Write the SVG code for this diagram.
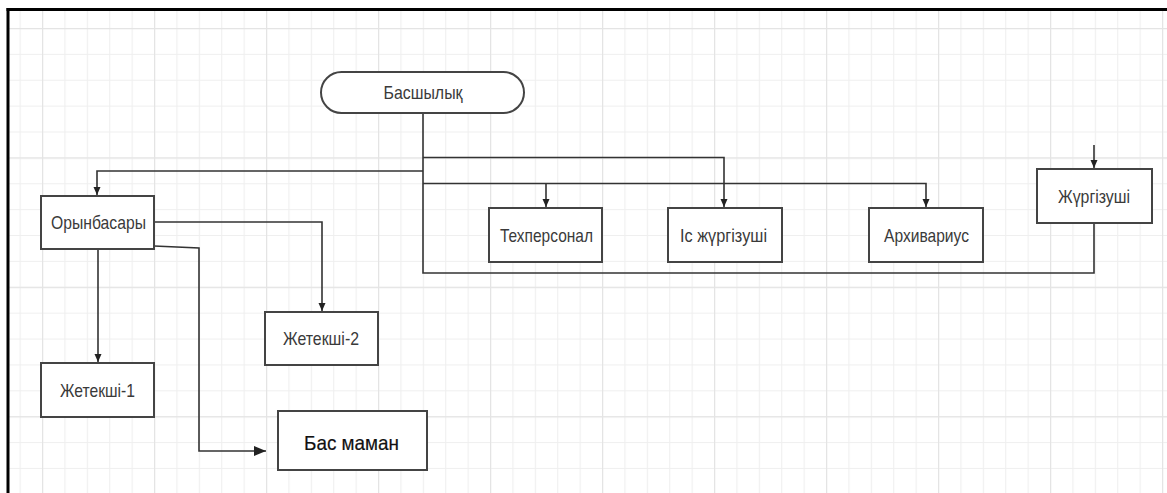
<svg xmlns="http://www.w3.org/2000/svg" width="1167" height="493" viewBox="0 0 1167 493">
<defs>
<pattern id="grid" x="19.6" y="2.1" width="22.4" height="25.88" patternUnits="userSpaceOnUse">
<path d="M0.5 0V25.88M0 0.5H22.4" fill="none" stroke="#efefef" stroke-width="1.2"/>
</pattern>
<pattern id="grid5" x="42" y="28" width="112" height="129.4" patternUnits="userSpaceOnUse">
<path d="M0.5 0V129.4M0 0.5H112" fill="none" stroke="#e4e4e4" stroke-width="1.4"/>
</pattern>
<marker id="arr" viewBox="0 0 8 10" refX="8" refY="5" markerWidth="8" markerHeight="10" markerUnits="userSpaceOnUse" orient="auto">
<path d="M0 1.5L8 5L0 8.5Z" fill="#222"/>
</marker>
<marker id="arrBig" viewBox="0 0 12 10" refX="12" refY="5" markerWidth="12" markerHeight="10" markerUnits="userSpaceOnUse" orient="auto">
<path d="M0 0L12 5L0 10Z" fill="#222"/>
</marker>
</defs>
<style>
.box{fill:#fff;stroke:#444;stroke-width:2}
.t{font-family:"Liberation Sans",Arial,sans-serif;font-size:19px;fill:#3a3a3a;text-anchor:middle;dominant-baseline:central}
.big{font-size:21px;fill:#111;stroke:#111;stroke-width:0.2}
.c{fill:none;stroke:#333;stroke-width:1.6}
</style>
<rect width="1167" height="493" fill="#fff"/>
<rect x="8" y="9" width="1159" height="484" fill="url(#grid)"/>
<rect x="8" y="9" width="1159" height="484" fill="url(#grid5)"/>
<line x1="6.5" y1="9.5" x2="1167" y2="9.5" stroke="#000" stroke-width="3"/>
<line x1="8" y1="8" x2="8" y2="493" stroke="#000" stroke-width="3"/>

<g id="connectors">
<path class="c" d="M423 113V273H1094V223"/>
<path class="c" d="M423 171H97V195" marker-end="url(#arr)"/>
<path class="c" d="M423 157.5H724V207" marker-end="url(#arr)"/>
<path class="c" d="M423 183.5H926V207" marker-end="url(#arr)"/>
<path class="c" d="M546 183.5V207" marker-end="url(#arr)"/>
<path class="c" d="M1094 145V168" marker-end="url(#arr)"/>
<path class="c" d="M154 222H322V311" marker-end="url(#arr)"/>
<path class="c" d="M98 249V362" marker-end="url(#arr)"/>
<path class="c" d="M154 246L199 248V451H266" marker-end="url(#arrBig)"/>
</g>

<g id="n-basshylyk">
<rect class="box" x="321" y="72" width="203" height="41" rx="20.5"/>
<text class="t" x="423" y="92" textLength="79" lengthAdjust="spacingAndGlyphs">Басшылық</text>
</g>
<g id="n-orynbasary">
<rect class="box" x="41" y="196" width="113" height="53"/>
<text class="t" x="98.5" y="222" textLength="95" lengthAdjust="spacingAndGlyphs">Орынбасары</text>
</g>
<g id="n-tehpersonal">
<rect class="box" x="489" y="208" width="113" height="54"/>
<text class="t" x="546.5" y="235" textLength="93" lengthAdjust="spacingAndGlyphs">Техперсонал</text>
</g>
<g id="n-is">
<rect class="box" x="668" y="208" width="114" height="54"/>
<text class="t" x="723.5" y="235" textLength="87" lengthAdjust="spacingAndGlyphs">Іс жүргізуші</text>
</g>
<g id="n-arhivarius">
<rect class="box" x="869" y="208" width="114" height="54"/>
<text class="t" x="926.5" y="235" textLength="85" lengthAdjust="spacingAndGlyphs">Архивариус</text>
</g>
<g id="n-zhurgizushi">
<rect class="box" x="1037" y="169" width="115" height="54"/>
<text class="t" x="1094" y="196" textLength="72" lengthAdjust="spacingAndGlyphs">Жүргізуші</text>
</g>
<g id="n-zhetekshi2">
<rect class="box" x="265" y="312" width="113" height="53"/>
<text class="t" x="321" y="338.5" textLength="76" lengthAdjust="spacingAndGlyphs">Жетекші-2</text>
</g>
<g id="n-zhetekshi1">
<rect class="box" x="41" y="363" width="113" height="54"/>
<text class="t" x="97.5" y="390" textLength="75" lengthAdjust="spacingAndGlyphs">Жетекші-1</text>
</g>
<g id="n-basmaman">
<rect class="box" x="278" y="411" width="149" height="59"/>
<text class="t big" x="351.5" y="442" textLength="95" lengthAdjust="spacingAndGlyphs">Бас маман</text>
</g>
</svg>
